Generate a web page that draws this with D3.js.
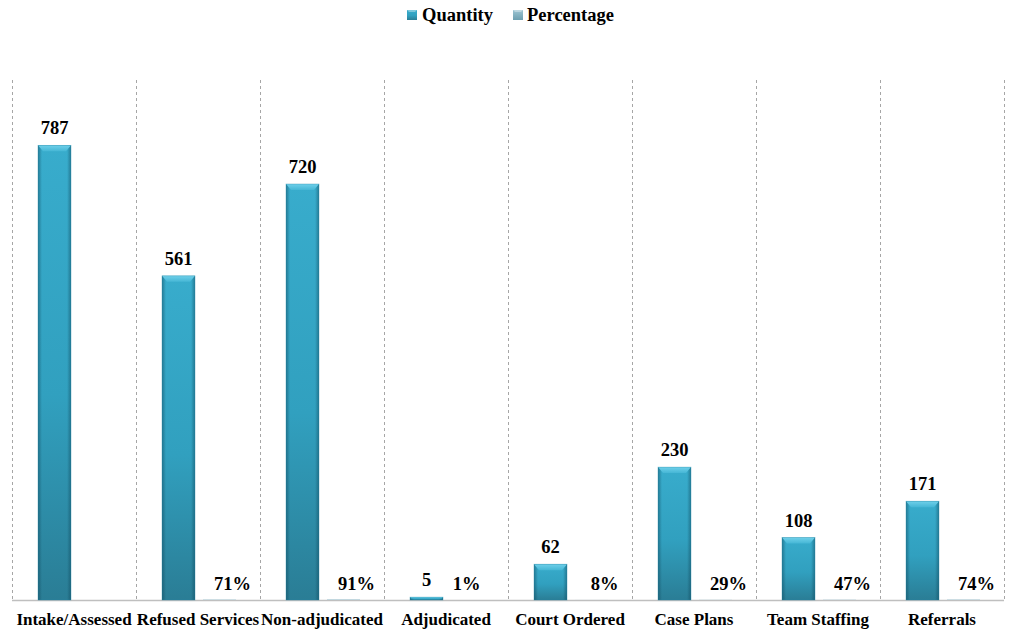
<!DOCTYPE html>
<html>
<head>
<meta charset="utf-8">
<script src="https://cdn.jsdelivr.net/npm/d3@7"></script>
<style>
  html, body { margin: 0; padding: 0; background: #ffffff; }
  svg { display: block; }
</style>
</head>
<body>
<svg id="chart" width="1012" height="630"></svg>
<script>
const categories = ["Intake/Assessed", "Refused Services", "Non-adjudicated", "Adjudicated", "Court Ordered", "Case Plans", "Team Staffing", "Referrals"];
const quantity = [787, 561, 720, 5, 62, 230, 108, 171];
const percentage = [null, 0.71, 0.91, 0.01, 0.08, 0.29, 0.47, 0.74];
const percentLabels = ["", "71%", "91%", "1%", "8%", "29%", "47%", "74%"];
const seriesNames = ["Quantity", "Percentage"];
const yMax = 900;

const FONT = "'Times New Roman', Times, 'Liberation Serif', 'DejaVu Serif', serif";
const svg = d3.select("#chart").style("font-family", FONT).style("font-weight", "bold");
const plot = { left: 12, right: 1004, top: 80, bottom: 600 };

const defs = svg.append("defs");
const gV = defs.append("linearGradient").attr("id", "barV").attr("x1", 0).attr("y1", 0).attr("x2", 0).attr("y2", 1);
gV.append("stop").attr("offset", "0%").attr("stop-color", "#38accc");
gV.append("stop").attr("offset", "55%").attr("stop-color", "#31a0bf");
gV.append("stop").attr("offset", "100%").attr("stop-color", "#2a7d95");
const gH = defs.append("linearGradient").attr("id", "barH").attr("x1", 0).attr("y1", 0).attr("x2", 1).attr("y2", 0);
gH.append("stop").attr("offset", "0%").attr("stop-color", "#0b3f52").attr("stop-opacity", 0.45);
gH.append("stop").attr("offset", "12%").attr("stop-color", "#0b3f52").attr("stop-opacity", 0.0);
gH.append("stop").attr("offset", "88%").attr("stop-color", "#0b3f52").attr("stop-opacity", 0.0);
gH.append("stop").attr("offset", "100%").attr("stop-color", "#0b3f52").attr("stop-opacity", 0.45);
const gTop = defs.append("linearGradient").attr("id", "barTop").attr("x1", 0).attr("y1", 0).attr("x2", 0).attr("y2", 1);
gTop.append("stop").attr("offset", "0%").attr("stop-color", "#6fd0ea");
gTop.append("stop").attr("offset", "100%").attr("stop-color", "#45b6d5");
const gP = defs.append("linearGradient").attr("id", "pctV").attr("x1", 0).attr("y1", 0).attr("x2", 0).attr("y2", 1);
gP.append("stop").attr("offset", "0%").attr("stop-color", "#9cc4d2");
gP.append("stop").attr("offset", "100%").attr("stop-color", "#6d9fb0");

const x0 = d3.scaleBand().domain(categories).range([plot.left, plot.right]).paddingInner(0).paddingOuter(0);
const x1 = d3.scaleBand().domain(seriesNames).range([26, 26 + 74]).paddingInner(8 / 41).paddingOuter(0);
const y = d3.scaleLinear().domain([0, yMax]).range([plot.bottom, plot.top]);

// vertical dashed separators
const seps = d3.range(categories.length + 1).map(i => plot.left + i * x0.step());
svg.append("g").selectAll("line").data(seps).join("line")
  .attr("x1", d => d + 0.5).attr("x2", d => d + 0.5)
  .attr("y1", plot.top).attr("y2", plot.bottom)
  .attr("stroke", "#a6a6a6").attr("stroke-width", 1).attr("stroke-dasharray", "3,3");

// baseline
svg.append("line").attr("x1", plot.left).attr("x2", plot.right)
  .attr("y1", plot.bottom + 0.5).attr("y2", plot.bottom + 0.5)
  .attr("stroke", "#bfbfbf").attr("stroke-width", 1.5);

const bw = x1.bandwidth();

// Quantity bars
const qg = svg.append("g");
categories.forEach((c, i) => {
  const bx = x0(c) + x1("Quantity");
  const top = y(quantity[i]);
  const h = plot.bottom - top;
  const g = qg.append("g");
  g.append("rect").attr("x", bx).attr("y", top).attr("width", bw).attr("height", h).attr("fill", "url(#barV)");
  g.append("rect").attr("x", bx).attr("y", top).attr("width", bw).attr("height", h).attr("fill", "url(#barH)");
  const bev = Math.min(6, h / 2);
  const ins = Math.min(5, bev);
  if (h > 2) {
    g.append("polygon")
      .attr("points", [[bx, top], [bx + bw, top], [bx + bw - ins, top + bev], [bx + ins, top + bev]].map(p => p.join(",")).join(" "))
      .attr("fill", "url(#barTop)");
  }
  g.append("rect").attr("x", bx).attr("y", top).attr("width", bw).attr("height", h)
    .attr("fill", "none").attr("stroke", "#2a8aa6").attr("stroke-width", 0.6).attr("stroke-opacity", 0.6);
  svg.append("text").attr("x", bx + bw / 2).attr("y", top - 11)
    .attr("text-anchor", "middle").style("font-size", "18.5px").text(quantity[i]);
});

// Percentage bars (tiny, on same axis)
categories.forEach((c, i) => {
  if (percentage[i] == null) return;
  const bx = x0(c) + x1("Percentage");
  const top = y(percentage[i]);
  svg.append("rect").attr("x", bx).attr("y", top).attr("width", bw).attr("height", plot.bottom - top)
    .attr("fill", "url(#pctV)");
  const off = quantity[i] < 20 ? -1 : 13;
  svg.append("text").attr("x", bx + bw / 2 + off).attr("y", plot.bottom - 10)
    .attr("text-anchor", "middle").style("font-size", "18.5px").text(percentLabels[i]);
});

// category labels
svg.append("g").selectAll("text").data(categories).join("text")
  .attr("x", d => x0(d) + x0.bandwidth() / 2).attr("y", 625)
  .attr("text-anchor", "middle").style("font-size", "17px").text(d => d);

// legend
const legend = svg.append("g");
const legendItems = [
  { name: "Quantity", mx: 407, tx: 422, fill: "url(#barV)" },
  { name: "Percentage", mx: 513, tx: 527, fill: "url(#pctV)" }
];
legendItems.forEach(it => {
  legend.append("rect").attr("x", it.mx).attr("y", 10).attr("width", 10).attr("height", 10).attr("fill", it.fill);
  legend.append("polygon").attr("points", `${it.mx},10 ${it.mx + 10},10 ${it.mx + 8},12 ${it.mx + 2},12`).attr("fill", "#ffffff").attr("fill-opacity", 0.35);
  legend.append("text").attr("x", it.tx).attr("y", 21).style("font-size", "18.5px").text(it.name);
});
</script>
</body>
</html>
